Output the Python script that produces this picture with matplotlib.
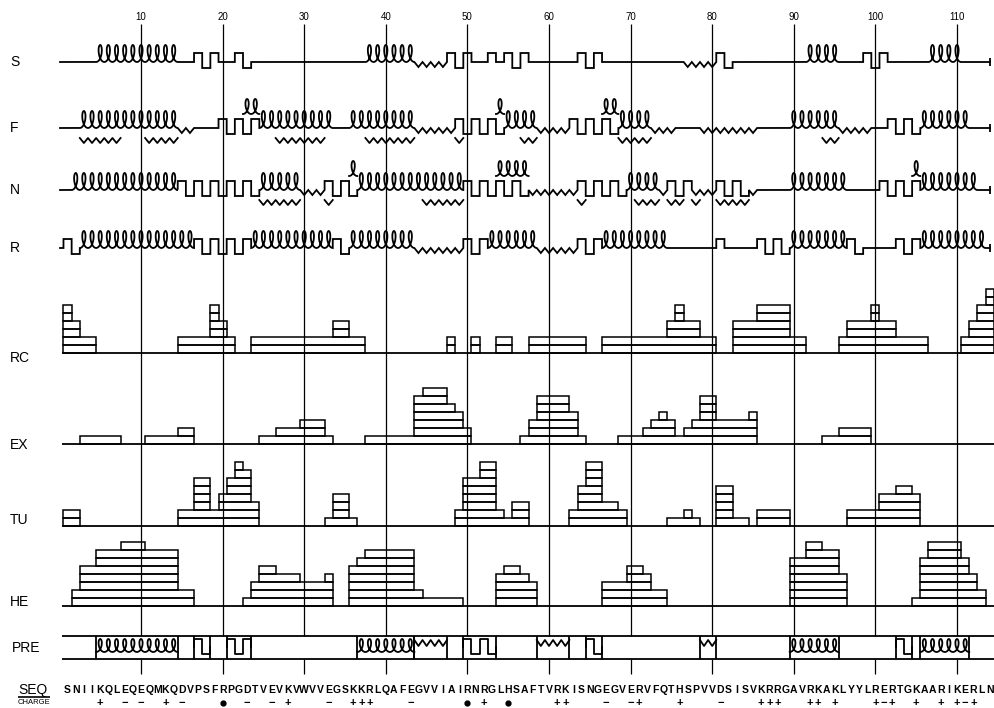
import numpy as np
import matplotlib
matplotlib.use("Agg")
import matplotlib.pyplot as plt

# =========================
# DATA
# =========================
SEQUENCE = ("SNIIKQLEQEQMKQDVPSFRPGDTVEVKVWVVEGSKKRLQAFEGVVIAIRNRGLHSAFTVRKISNGEG"
            "VERVFQTHSPVVDSISVKRRGAVRKAKLYYLRERTGKAARIKERLN")
TICKS = [10, 20, 30, 40, 50, 60, 70, 80, 90, 100, 110]

CHARGE_POS = [5, 8, 10, 13, 15, 20, 23, 26, 28, 33, 36, 37, 38, 43, 50, 52, 55,
              61, 62, 67, 70, 71, 76, 81, 86, 87, 88, 92, 93, 95, 100, 101, 102,
              105, 108, 110, 111, 112]
CHARGE_SIGN = ["+", "-", "-", "+", "-", "o", "-", "-", "+", "-", "+", "+", "+", "-", "o", "+", "o",
               "+", "+", "-", "-", "+", "+", "-", "+", "+", "+", "+", "+", "+", "+", "-", "+",
               "+", "+", "+", "-", "+"]

# predicted structures per method: H helix, E sheet, T turn (coil elsewhere)
S_SEGS = [("H", 5, 14), ("T", 17, 19), ("T", 22, 23), ("H", 38, 43), ("E", 44, 47),
          ("T", 48, 50), ("T", 53, 53), ("T", 55, 57), ("T", 64, 66), ("E", 77, 80),
          ("T", 81, 82), ("H", 92, 95), ("T", 99, 101), ("H", 107, 110)]
F_SEGS = [("H", 3, 14), ("E", 15, 16), ("T", 20, 24), ("H", 25, 33), ("H", 36, 43),
          ("E", 44, 48), ("T", 49, 54), ("H", 55, 58), ("E", 59, 62), ("T", 63, 68),
          ("H", 69, 72), ("E", 73, 75), ("E", 79, 85), ("H", 90, 95), ("E", 96, 99),
          ("T", 102, 105), ("H", 106, 111)]
N_SEGS = [("H", 2, 14), ("T", 15, 24), ("H", 25, 29), ("E", 30, 32), ("T", 33, 36),
          ("H", 37, 49), ("T", 50, 57), ("E", 58, 63), ("T", 64, 69), ("H", 70, 73),
          ("E", 74, 74), ("T", 75, 77), ("E", 78, 80), ("T", 81, 84), ("E", 85, 85),
          ("H", 90, 96), ("T", 101, 105), ("H", 106, 112)]
R_SEGS = [("T", 1, 2), ("H", 3, 16), ("T", 17, 23), ("H", 24, 33), ("T", 34, 35),
          ("H", 36, 43), ("E", 44, 49), ("T", 50, 52), ("H", 53, 58), ("E", 59, 63),
          ("T", 64, 66), ("H", 67, 74), ("T", 81, 81), ("T", 86, 89), ("H", 90, 96),
          ("T", 97, 98), ("T", 103, 105), ("H", 106, 113)]

# secondary (alternative) assignments drawn above / below a row
F_ALT = [("E", 3, 7), ("E", 11, 14), ("H", 23, 24), ("E", 27, 32), ("E", 38, 43),
         ("E", 49, 49), ("H", 54, 54), ("E", 57, 58), ("H", 67, 68), ("E", 69, 72),
         ("E", 94, 95)]
N_ALT = [("E", 25, 29), ("E", 33, 33), ("H", 36, 36), ("E", 45, 49), ("H", 54, 57),
         ("E", 64, 64), ("E", 71, 73), ("E", 75, 76), ("E", 78, 78), ("E", 81, 84),
         ("H", 105, 105)]

PRE_SEGS = [("H", 5, 14), ("T", 17, 18), ("T", 21, 23), ("H", 37, 43), ("E", 44, 47),
            ("T", 50, 53), ("E", 59, 62), ("T", 65, 66), ("E", 79, 80), ("H", 90, 95),
            ("T", 103, 104), ("H", 106, 111)]

# per-residue histogram heights (residues 1..114)
RC = [6, 4, 2, 2, 0, 0, 0, 0, 0, 0,   0, 0, 0, 0, 2, 2, 2, 2, 6, 4,
      2, 0, 0, 2, 2, 2, 2, 2, 2, 2,   2, 2, 2, 4, 4, 2, 2, 0, 0, 0,
      0, 0, 0, 0, 0, 0, 0, 2, 0, 0,   2, 0, 0, 2, 2, 0, 0, 2, 2, 2,
      2, 2, 2, 2, 0, 0, 2, 2, 2, 2,   2, 2, 2, 2, 4, 6, 4, 4, 2, 2,
      0, 0, 4, 4, 4, 6, 6, 6, 6, 2,   2, 0, 0, 0, 0, 2, 4, 4, 4, 6,
      4, 4, 2, 2, 2, 2, 0, 0, 0, 0,   2, 4, 6, 8]
EX = [0, 0, 1, 1, 1, 1, 1, 0, 0, 0,   1, 1, 1, 1, 2, 2, 0, 0, 0, 0,
      0, 0, 0, 0, 1, 1, 2, 2, 2, 3,   3, 3, 1, 0, 0, 0, 0, 1, 1, 1,
      1, 1, 1, 6, 7, 7, 7, 5, 4, 2,   0, 0, 0, 0, 0, 0, 1, 3, 6, 6,
      6, 6, 4, 1, 0, 0, 0, 0, 1, 1,   1, 2, 3, 4, 3, 1, 2, 3, 6, 6,
      3, 3, 3, 3, 4, 0, 0, 0, 0, 0,   0, 0, 0, 1, 1, 2, 2, 2, 2, 0,
      0, 0, 0, 0, 0, 0, 0, 0, 0, 0,   0, 0, 0, 0]
TU = [2, 2, 0, 0, 0, 0, 0, 0, 0, 0,   0, 0, 0, 0, 2, 2, 6, 6, 2, 4,
      6, 8, 7, 3, 0, 0, 0, 0, 0, 0,   0, 0, 1, 4, 4, 1, 0, 0, 0, 0,
      0, 0, 0, 0, 0, 0, 0, 0, 2, 6,   6, 8, 8, 2, 1, 3, 3, 0, 0, 0,
      0, 0, 2, 5, 8, 8, 3, 3, 2, 0,   0, 0, 0, 0, 1, 1, 2, 1, 0, 0,
      5, 5, 1, 1, 0, 2, 2, 2, 2, 0,   0, 0, 0, 0, 0, 0, 2, 2, 2, 2,
      4, 4, 5, 5, 4, 0, 0, 0, 0, 0,   0, 0, 0, 0]
HE = [0, 2, 5, 5, 7, 7, 7, 8, 8, 8,   7, 7, 7, 7, 2, 2, 0, 0, 0, 0,
      0, 0, 1, 3, 5, 5, 4, 4, 4, 3,   3, 3, 4, 0, 0, 5, 6, 7, 7, 7,
      7, 7, 7, 2, 1, 1, 1, 1, 1, 0,   0, 0, 0, 4, 5, 5, 4, 3, 0, 0,
      0, 0, 0, 0, 0, 0, 3, 3, 3, 5,   5, 4, 2, 2, 0, 0, 0, 0, 0, 0,
      0, 0, 0, 0, 0, 0, 0, 0, 0, 6,   6, 8, 8, 7, 7, 4, 0, 0, 0, 0,
      0, 0, 0, 0, 1, 6, 8, 8, 8, 8,   6, 4, 2, 0]

# =========================
# LAYOUT (pixel rows, y up)
# =========================
W, H = 994, 708
PX0, PX_PER_RES = 59.4, 8.16
STRUCT_ROWS = [("S", 646, S_SEGS, []), ("F", 580, F_SEGS, F_ALT),
               ("N", 518, N_SEGS, N_ALT), ("R", 460, R_SEGS, [])]
# label, baseline, label y, heights
HIST_ROWS = [("RC", 355, 350, RC), ("EX", 264, 263, EX),
             ("TU", 182, 188, TU), ("HE", 102, 106, HE)]
BAR_H = 8
PRE_BOT, PRE_TOP = 49, 72
LW = 1.3


def res(px):
    return (px - PX0) / PX_PER_RES


def helix_xy(a, b, base, h=17, bx=0.42):
    # one "l"-shaped loop per residue
    n = b - a + 1
    t = np.linspace(0, n, n * 60 + 1)
    x = a - 0.5 + t + bx * np.sin(2 * np.pi * t)
    y = base + h / 2 * (1 - np.cos(2 * np.pi * t))
    return list(x), list(y)


def sheet_xy(a, b, base, amp=5):
    k = np.arange(2 * (b - a + 1) + 1)
    x = a - 0.5 + k / 2
    y = np.where(k % 2 == 0, base, base - amp)
    return list(x), list(y)


def turn_xy(a, b, base, up=9, dn=6):
    xs, ys = [a - 0.5], [base]
    for i, r in enumerate(range(a, b + 1)):
        lev = base + up if i % 2 == 0 else base - dn
        xs += [r - 0.5, r + 0.5]
        ys += [lev, lev]
    xs.append(b + 0.5)
    ys.append(base)
    return xs, ys


def seg_xy(kind, a, b, base):
    if kind == "H":
        return helix_xy(a, b, base)
    if kind == "E":
        return sheet_xy(a, b, base)
    return turn_xy(a, b, base)


fig = plt.figure(figsize=(W / 100, H / 100), dpi=100)
ax = fig.add_axes([0, 0, 1, 1])
ax.set_xlim(res(0), res(W))
ax.set_ylim(0, H)
ax.axis("off")

txt = dict(family="Liberation Sans", color="black")

# grid lines at every 10th residue
ax.vlines(TICKS, PRE_TOP, 684, color="black", lw=0.9)
ax.vlines(TICKS, PRE_BOT - 15, PRE_BOT, color="black", lw=0.9)
for t in TICKS:
    ax.text(t, 691, str(t), ha="center", va="center", fontsize=7, **txt)

# structure rows
start, end = res(60), res(990)
for label, base, segs, alt in STRUCT_ROWS:
    xs, ys = [start], [base]
    for kind, a, b in sorted(segs, key=lambda s: s[1]):
        sx, sy = seg_xy(kind, a, b, base)
        xs += sx
        ys += sy
    xs.append(end)
    ys.append(base)
    ax.plot(xs, ys, color="black", lw=LW, solid_joinstyle="miter")
    ax.vlines(end, base - 4, base + 4, color="black", lw=LW)
    for kind, a, b in alt:
        if kind == "H":
            sx, sy = helix_xy(a, b, base + 14, h=15)
        else:
            sx, sy = sheet_xy(a, b, base - 10)
        ax.plot(sx, sy, color="black", lw=LW)
    ax.text(res(10), base, label, ha="left", va="center", fontsize=10, **txt)

# histogram rows
for label, base, ly, hts in HIST_ROWS:
    hts = np.array(hts)
    ax.hlines(base, res(62), res(W), color="black", lw=LW)
    for k in range(1, hts.max() + 1):
        on = np.r_[False, hts >= k, False]
        edges = np.flatnonzero(np.diff(on.astype(int)))
        for s, e in zip(edges[::2], edges[1::2]):
            ax.bar(s + 0.5, BAR_H, width=e - s, bottom=base + (k - 1) * BAR_H,
                   align="edge", fill=False, edgecolor="black", lw=1.1)
    ax.text(res(10), ly, label, ha="left", va="center", fontsize=10, **txt)

# combined prediction row
ax.hlines([PRE_BOT, PRE_TOP], res(62), res(W), color="black", lw=LW)
for kind, a, b in PRE_SEGS:
    if kind == "H":
        sx, sy = helix_xy(a, b, PRE_BOT + 7, h=13)
    elif kind == "E":
        sx, sy = sheet_xy(a, b, PRE_TOP - 4, amp=6)
    else:
        sx, sy = turn_xy(a, b, PRE_BOT + 12, up=8, dn=7)
    ax.plot(sx, sy, color="black", lw=LW)
    ax.vlines([a - 0.5, b + 0.5], PRE_BOT, PRE_TOP, color="black", lw=LW)
ax.text(res(12), 60, "PRE", ha="left", va="center", fontsize=10, **txt)

# sequence and charges
ax.text(res(18), 18, "SEQ", ha="left", va="center", fontsize=10, **txt)
ax.hlines(11, res(18), res(50), color="black", lw=1.2)
ax.text(res(18), 5, "CHARGE", ha="left", va="center", fontsize=5.5, **txt)
for i, aa in enumerate(SEQUENCE, start=1):
    ax.text(i, 18, aa, ha="center", va="center", fontsize=7.5, fontweight="bold", **txt)
for p, s in zip(CHARGE_POS, CHARGE_SIGN):
    if s == "o":
        ax.plot(p, 5, "o", color="black", ms=3.5)
    else:
        ax.text(p, 5, "+" if s == "+" else "\u2212", ha="center", va="center",
                fontsize=8, fontweight="bold", **txt)

fig.savefig("out.png", dpi=100)
